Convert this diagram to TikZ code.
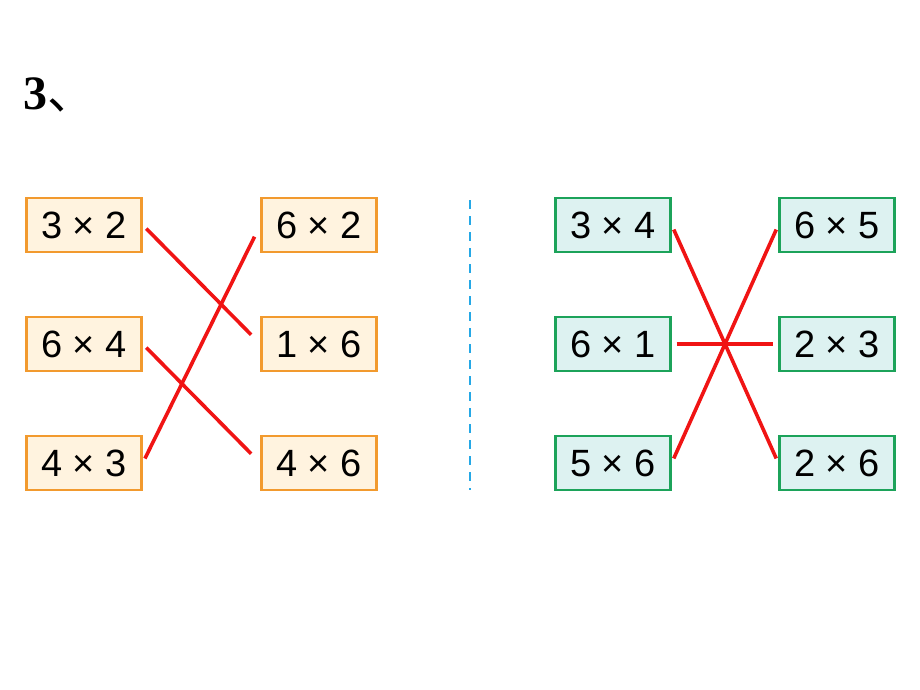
\documentclass[tikz,border=0pt]{standalone}
\usepackage{fontspec}
\setmainfont{Liberation Sans}
\newfontfamily\titlefont{Liberation Serif}
\newfontfamily\cjk{Noto Sans CJK SC}
\definecolor{boxorange}{HTML}{F29A2E}
\definecolor{fillorange}{HTML}{FFF3DF}
\definecolor{boxgreen}{HTML}{1CA35A}
\definecolor{fillgreen}{HTML}{DDF2F1}
\definecolor{linkred}{HTML}{F01414}
\definecolor{sepblue}{HTML}{25A8E6}

\begin{document}
\begin{tikzpicture}
  [x=1pt,y=-1pt,
   every node/.style={minimum width=115pt,minimum height=54pt,inner sep=0pt,
     line width=2.4pt,font=\fontsize{38}{38}\selectfont},
   obox/.style={draw=boxorange,fill=fillorange},
   gbox/.style={draw=boxgreen,fill=fillgreen},
   link/.style={draw=linkred,line width=3.6pt}]
  \useasboundingbox (0,0) rectangle (920,690);
  \node[draw=none,fill=none,minimum width=0pt,minimum height=0pt,anchor=base west]
    (title) at (22,110) {\fontsize{48}{48}\selectfont\titlefont\bfseries 3\cjk\mdseries 、};

  \node[obox] (a1) at (84,225) {3 × 2};
  \node[obox] (a2) at (84,344) {6 × 4};
  \node[obox] (a3) at (84,463) {4 × 3};
  \node[obox] (b1) at (319,225) {6 × 2};
  \node[obox] (b2) at (319,344) {1 × 6};
  \node[obox] (b3) at (319,463) {4 × 6};

  \node[gbox] (c1) at (613,225) {3 × 4};
  \node[gbox] (c2) at (613,344) {6 × 1};
  \node[gbox] (c3) at (613,463) {5 × 6};
  \node[gbox] (d1) at (837,225) {6 × 5};
  \node[gbox] (d2) at (837,344) {2 × 3};
  \node[gbox] (d3) at (837,463) {2 × 6};

  \coordinate (top) at (470,200);
  \coordinate (bottom) at (470,490);
  \draw[sepblue,line width=2.6pt,dash pattern=on 9pt off 7pt] (top) -- (bottom);

  \foreach \from/\to in {a1/b2,a2/b3,a3/b1}
    \draw[link,shorten <=5pt,shorten >=13pt] (\from.east) -- (\to.west);
  \foreach \from/\to in {c1/d3,c2/d2,c3/d1}
    \draw[link,shorten <=5pt,shorten >=5pt] (\from.east) -- (\to.west);

\end{tikzpicture}
\end{document}
